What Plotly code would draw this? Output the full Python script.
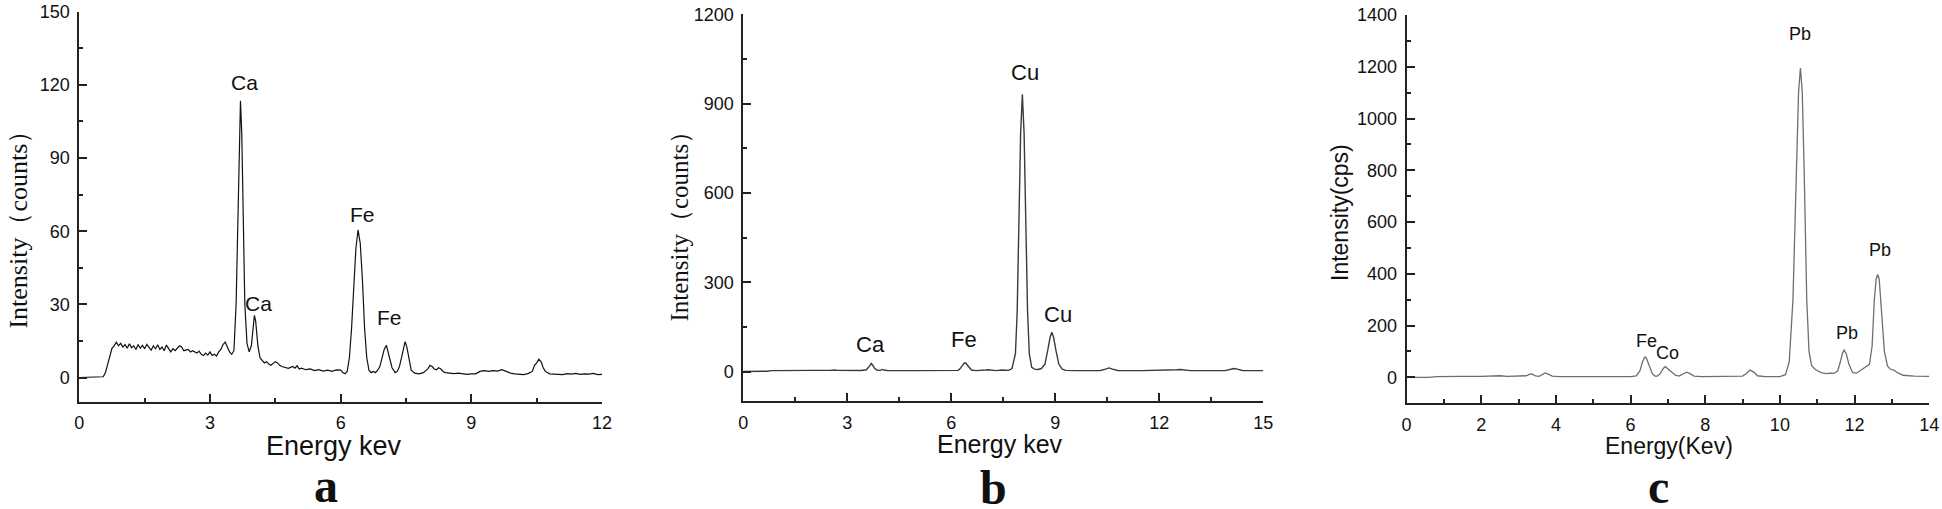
"""EDX / XRF spectra, three panels (a, b, c)."""

import plotly.graph_objects as go

# ---- panel a: Intensity (counts) vs Energy keV ----
energy_a = [
    0.0, 0.5, 0.55, 0.6, 0.65, 0.7, 0.75, 0.8, 0.85, 0.9, 0.95, 1.0, 1.05, 1.1, 1.15,
    1.2, 1.25, 1.3, 1.35, 1.4, 1.45, 1.5, 1.55, 1.6, 1.65, 1.7, 1.75, 1.8, 1.85, 1.9,
    1.95, 2.0, 2.05, 2.1, 2.15, 2.2, 2.25, 2.3, 2.35, 2.4, 2.5, 2.55, 2.6, 2.7, 2.75,
    2.8, 2.85, 2.9, 2.95, 3.0, 3.05, 3.1, 3.15, 3.2, 3.25, 3.3, 3.35, 3.4, 3.45, 3.5,
    3.55, 3.6, 3.64, 3.67, 3.7, 3.73, 3.76, 3.8, 3.85, 3.9, 3.95, 4.0, 4.02, 4.05, 4.1,
    4.15, 4.2, 4.25, 4.3, 4.35, 4.4, 4.45, 4.5, 4.55, 4.6, 4.65, 4.7, 4.8, 4.9, 4.95,
    5.0, 5.05, 5.1, 5.2, 5.3, 5.4, 5.5, 5.6, 5.7, 5.8, 5.9, 6.0, 6.05, 6.1, 6.15,
    6.2, 6.25, 6.3, 6.35, 6.4, 6.45, 6.5, 6.55, 6.6, 6.65, 6.7, 6.75, 6.8, 6.85, 6.9,
    6.95, 7.0, 7.05, 7.08, 7.12, 7.18, 7.25, 7.3, 7.35, 7.4, 7.45, 7.48, 7.52, 7.57, 7.62,
    7.7, 7.8, 7.9, 8.0, 8.05, 8.1, 8.15, 8.2, 8.25, 8.3, 8.35, 8.4, 8.5, 8.6, 8.7,
    8.8, 8.9, 9.0, 9.1, 9.2, 9.3, 9.4, 9.5, 9.6, 9.7, 9.8, 9.9, 10.0, 10.1, 10.2,
    10.3, 10.4, 10.45, 10.5, 10.55, 10.6, 10.65, 10.7, 10.8, 10.9, 11.0, 11.1, 11.2, 11.3, 11.4,
    11.5, 11.6, 11.7, 11.8, 11.9, 12.0,
]
counts_a = [
    0, 0, 0.3, 2, 5, 9, 12, 13, 14.5, 13, 14, 12.5, 13.5, 12, 13.8,
    12.2, 13, 11.5, 13.5, 12, 13.2, 11.8, 13.6, 12.4, 11.2, 13, 11.8, 13.4, 11.5, 12.5,
    11, 13.3, 12, 10.5, 11.8, 11, 12, 13, 12.5, 11, 11.5, 10.5, 11, 10, 10.8,
    9.5, 9, 10, 9.2, 10.5, 9, 9.5, 8.8, 10.5, 11.5, 13.5, 14.5, 12.5, 10.5, 9.5,
    11, 30, 70, 100, 113.5, 100, 65, 30, 14, 10.5, 13, 24, 25.5, 23, 13,
    8, 7, 6, 6.5, 5.5, 5, 5.8, 6.5, 6, 5, 4.5, 4.2, 3.8, 4.5, 3.8,
    4.8, 3.5, 3.8, 3.2, 3.5, 2.8, 3.2, 2.6, 3, 2.5, 3.1, 3, 2, 1.5, 2.5,
    8, 20, 38, 53, 60.5, 55, 40, 20, 8, 3, 2, 2.5, 2, 3, 4.5,
    8, 11.5, 13.2, 11, 8, 4, 2, 2.5, 4.5, 9, 13, 14.7, 12.5, 7, 3,
    1.8, 1.5, 2, 3.5, 5, 4.5, 3.5, 3.2, 4, 3.5, 2.5, 2, 1.8, 1.6, 1.8,
    1.4, 1.3, 1.5, 1.5, 2.5, 2.8, 2.5, 2.8, 2.6, 3.2, 2.5, 1.8, 1.5, 1.3, 1.2,
    1.6, 2.5, 5, 6, 7.5, 6.5, 4, 2.5, 1.5, 1.3, 1.4, 1.2, 1.6, 1.4, 1.7,
    1.3, 1.5, 1.4, 1.7, 1.2, 1.3,
]
labels_a = [("Ca", 3.79, 121), ("Ca", 4.12, 30.4), ("Fe", 6.51, 67), ("Fe", 7.12, 24.6)]

# ---- panel b: Intensity (counts) vs Energy keV ----
energy_b = [
    0.0, 0.6, 0.7, 0.8, 1.0, 1.5, 2.0, 2.5, 2.6, 2.65, 2.7, 3.0, 3.4, 3.55, 3.6,
    3.65, 3.69, 3.73, 3.78, 3.85, 3.95, 4.0, 4.05, 4.15, 5.0, 6.0, 6.2, 6.25, 6.32, 6.38,
    6.42, 6.5, 6.58, 6.7, 6.9, 7.0, 7.06, 7.15, 7.3, 7.45, 7.5, 7.55, 7.65, 7.75, 7.85,
    7.9, 7.95, 8.0, 8.05, 8.1, 8.15, 8.2, 8.25, 8.32, 8.4, 8.5, 8.6, 8.7, 8.78, 8.85,
    8.9, 8.95, 9.02, 9.1, 9.2, 9.3, 9.6, 10.0, 10.3, 10.45, 10.55, 10.65, 10.8, 11.5, 12.3,
    12.5, 12.6, 12.7, 12.9, 13.3, 13.4, 13.5, 13.9, 14.05, 14.15, 14.25, 14.4, 15.0,
]
counts_b = [
    0, 0, 1, 3, 3.5, 3.5, 4, 4, 6, 5, 4, 3.5, 3.5, 6, 12,
    20, 27, 22, 12, 5, 4, 7, 5, 3.5, 3, 3, 4, 9, 20, 29,
    28, 15, 5, 3, 3, 5, 6, 4, 3, 5, 6, 4.5, 4, 10, 60,
    200, 500, 800, 931, 800, 500, 200, 60, 14, 8, 7, 10, 25, 70, 115,
    132, 115, 70, 25, 8, 4, 3, 3, 3.5, 8, 12, 8, 3.5, 3, 3.5,
    6, 7, 6, 3, 3, 4, 3, 3, 7, 10, 8, 3.5, 3,
]
labels_b = [("Ca", 3.68, 92), ("Fe", 6.37, 107), ("Cu", 8.12, 1004), ("Cu", 9.07, 191)]

# ---- panel c: Intensity (cps) vs Energy (Kev) ----
energy_c = [
    0.0, 0.6, 0.8, 1.0, 1.5, 2.0, 2.3, 2.4, 2.5, 2.7, 3.0, 3.2, 3.3, 3.35, 3.45,
    3.55, 3.65, 3.7, 3.78, 3.9, 4.1, 5.0, 6.0, 6.15, 6.25, 6.32, 6.38, 6.42, 6.5, 6.58,
    6.65, 6.72, 6.8, 6.88, 6.93, 7.0, 7.1, 7.2, 7.3, 7.4, 7.5, 7.58, 7.7, 7.9, 8.5,
    9.0, 9.1, 9.2, 9.3, 9.4, 9.6, 10.0, 10.15, 10.25, 10.35, 10.45, 10.5, 10.55, 10.6, 10.65,
    10.72, 10.78, 10.85, 10.95, 11.1, 11.25, 11.35, 11.45, 11.55, 11.62, 11.68, 11.72, 11.78, 11.85, 11.95,
    12.05, 12.15, 12.3, 12.4, 12.47, 12.53, 12.58, 12.62, 12.66, 12.72, 12.8, 12.88, 12.95, 13.05, 13.15,
    13.3, 13.6, 14.0,
]
cps_c = [
    0, 0, 3, 4, 4, 4, 5, 7, 6, 4, 4, 6, 12, 13, 6,
    4, 12, 17, 13, 5, 3, 3, 3, 6, 25, 60, 78, 76, 45, 15,
    5, 5, 15, 35, 41, 33, 20, 8, 5, 13, 20, 15, 5, 3, 3,
    5, 15, 28, 20, 6, 3, 3, 10, 60, 300, 800, 1100, 1195, 1100, 800,
    300, 100, 45, 30, 18, 14, 16, 15, 25, 60, 95, 105, 90, 50, 18,
    16, 25, 38, 50, 120, 300, 380, 397, 380, 270, 100, 45, 32, 28, 18,
    8, 5, 4,
]
labels_c = [
    ("Fe", 6.42, 140), ("Co", 6.99, 94), ("Pb", 10.55, 1326),
    ("Pb", 11.81, 171), ("Pb", 12.67, 492),
]

W, H = 1942, 509
SANS = "Liberation Sans, Arial, sans-serif"
SERIF = "Liberation Serif, Times New Roman, serif"


def px_x(p):
    return p / W


def px_y(p):
    return 1 - p / H


panels = [
    # x pixel span, y pixel span, x range, y range, major/minor dticks, line colour
    dict(x=(79.3, 602.0), y=(11.7, 401.9), xr=[0, 12], yr=[-10, 150],
         xd=3, xm=1.5, yd=30, ym=15, data=(energy_a, counts_a), color="#111111",
         width=1.2, labels=labels_a, lfont=21),
    dict(x=(743.3, 1263.3), y=(14.3, 401.3), xr=[0, 15], yr=[-100, 1200],
         xd=3, xm=1.5, yd=300, ym=150, data=(energy_b, counts_b), color="#3a3a3a",
         width=1.4, labels=labels_b, lfont=22),
    dict(x=(1406.6, 1929.2), y=(15.0, 403.2), xr=[0, 14], yr=[-100, 1400],
         xd=2, xm=1, yd=200, ym=100, data=(energy_c, cps_c), color="#6e6e6e",
         width=1.3, labels=labels_c, lfont=18),
]

fig = go.Figure()
annotations = []
layout = {}

for i, p in enumerate(panels, start=1):
    sx = "" if i == 1 else str(i)
    xs, ys = p["data"]
    fig.add_trace(
        go.Scatter(
            x=xs, y=ys, mode="lines", xaxis="x" + sx, yaxis="y" + sx,
            line=dict(color=p["color"], width=p["width"]),
            showlegend=False, hoverinfo="skip",
        )
    )
    common = dict(
        showline=True, linewidth=1.8, linecolor="#222222", mirror=False,
        showgrid=False, zeroline=False, ticks="inside", ticklen=8, tickwidth=1.5,
        tickcolor="#222222", tickfont=dict(family=SANS, size=18, color="#111111"),
        ticklabelstandoff=4, automargin=False,
    )
    layout["xaxis" + sx] = dict(
        common, domain=[px_x(p["x"][0]), px_x(p["x"][1])], range=p["xr"],
        anchor="y" + sx, tick0=0, dtick=p["xd"],
        minor=dict(ticks="inside", ticklen=4, tickwidth=1.5, tickcolor="#222222", dtick=p["xm"], tick0=0),
    )
    layout["yaxis" + sx] = dict(
        common, domain=[px_y(p["y"][1]), px_y(p["y"][0])], range=p["yr"],
        anchor="x" + sx, tick0=0, dtick=p["yd"],
        minor=dict(ticks="inside", ticklen=4, tickwidth=1.5, tickcolor="#222222", dtick=p["ym"], tick0=0),
    )
    for text, lx, ly in p["labels"]:
        annotations.append(dict(
            x=lx, y=ly, xref="x" + sx, yref="y" + sx, text=text, showarrow=False,
            font=dict(family=SANS, size=p["lfont"], color="#111111"),
            xanchor="center", yanchor="middle",
        ))

# axis titles and panel letters (pixel centres measured on the figure)
titles = [
    ("Intensity（counts）", 17.6, 223, -90, SERIF, 26),
    ("Energy kev", 333.7, 446, 0, SANS, 27),
    ("Intensity（counts）", 678.5, 220, -90, SERIF, 25),
    ("Energy kev", 1000, 444, 0, SANS, 25),
    ("Intensity(cps)", 1340, 213, -90, SANS, 23),
    ("Energy(Kev)", 1668.7, 446, 0, SANS, 23),
    ("<b>a</b>", 326, 485, 0, SERIF, 48),
    ("<b>b</b>", 993.5, 487, 0, SERIF, 48),
    ("<b>c</b>", 1658, 486, 0, SERIF, 48),
]
for text, cx, cy, ang, fam, size in titles:
    annotations.append(dict(
        x=px_x(cx), y=px_y(cy), xref="paper", yref="paper", text=text,
        showarrow=False, textangle=ang, xanchor="center", yanchor="middle",
        font=dict(family=fam, size=size, color="#111111"),
    ))

fig.update_layout(
    width=W, height=H, autosize=False, margin=dict(l=0, r=0, t=0, b=0, pad=0),
    paper_bgcolor="white", plot_bgcolor="white",
    annotations=annotations, **layout,
)

fig.write_html(
    "out.html",
    config={"displayModeBar": False},
    post_script="document.body.style.margin='0';document.body.style.overflow='hidden';",
)
